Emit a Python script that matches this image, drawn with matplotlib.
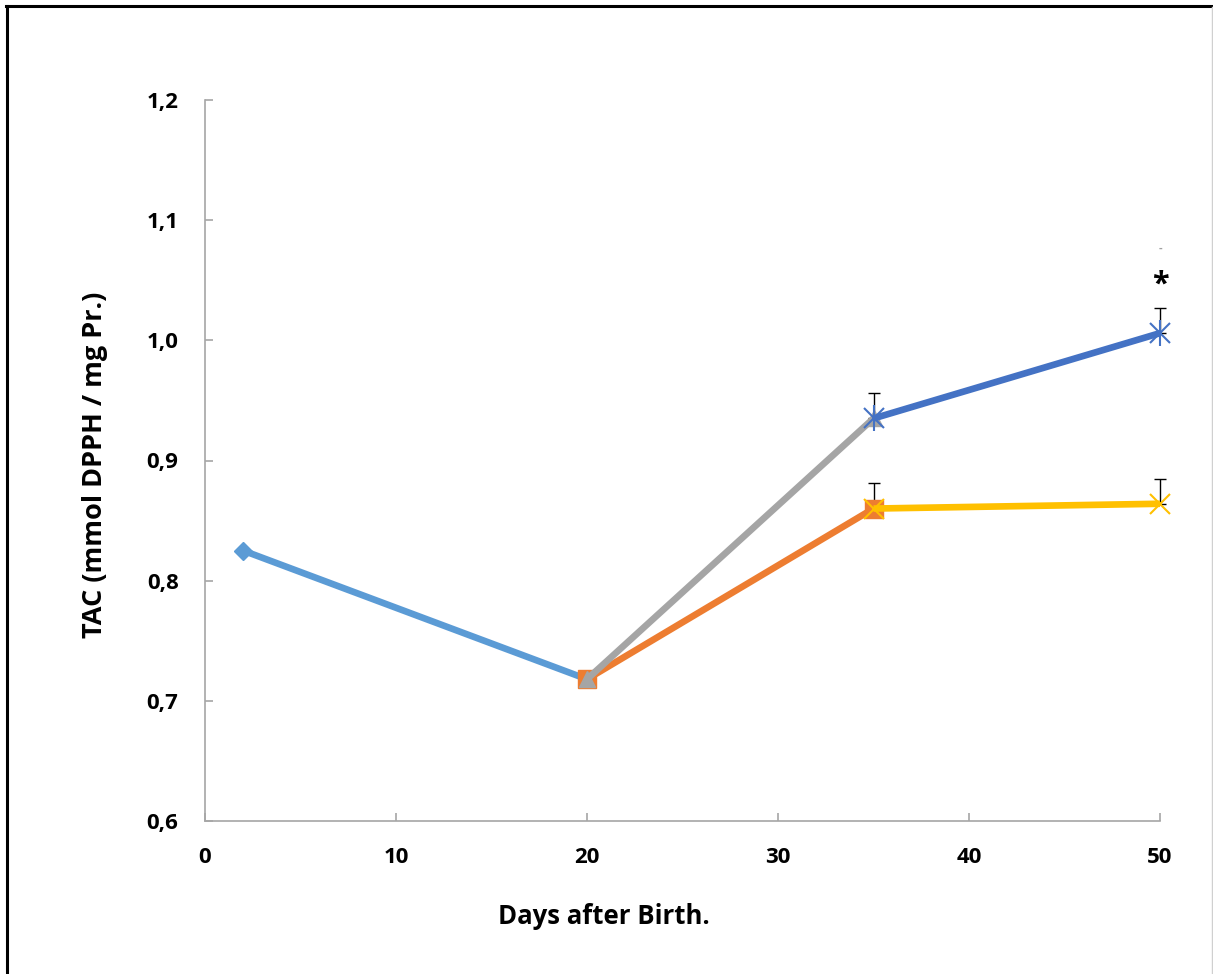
import matplotlib
matplotlib.use("Agg")
import matplotlib.pyplot as plt
from matplotlib.lines import Line2D

plt.rcParams['font.family'] = ['Open Sans', 'DejaVu Sans']
plt.rcParams['font.weight'] = 'bold'

# TAC measurements by age (days after birth)
days_early = [2, 20]
tac_early = [0.825, 0.718]

days_mid = [20, 35]
tac_mid_a = [0.718, 0.860]
tac_mid_b = [0.718, 0.935]

days_late = [35, 50]
tac_late_a = [0.860, 0.864]
tac_late_b = [0.935, 1.006]

# upper standard errors
err_late_a = [0.021, 0.021]
err_late_b = [0.021, 0.021]

x_ticks = [0, 10, 20, 30, 40, 50]
y_ticks = [0.6, 0.7, 0.8, 0.9, 1.0, 1.1, 1.2]

fig = plt.figure(figsize=(12.13, 9.74), dpi=100)
ax = fig.add_axes([205 / 1213, 1 - 821 / 974, 955 / 1213, 721 / 974])

lw = 4.8
ax.plot(days_early, tac_early, color='#5B9BD5', lw=lw, marker='D', ms=9,
        solid_capstyle='butt', zorder=3, clip_on=False)
ax.plot(days_mid, tac_mid_a, color='#ED7D31', lw=lw, marker='s', ms=13,
        solid_capstyle='butt', zorder=3, clip_on=False)
ax.plot(days_mid, tac_mid_b, color='#A5A5A5', lw=lw, marker='^', ms=12,
        solid_capstyle='butt', zorder=3, clip_on=False)

for tac, err in [(tac_late_a, err_late_a), (tac_late_b, err_late_b)]:
    eb = ax.errorbar(days_late, tac, yerr=[[0, 0], err], fmt='none',
                     ecolor='black', elinewidth=1.0, capsize=4.5,
                     capthick=1.0, zorder=2)
    for art in eb.lines[1] + eb.lines[2]:
        art.set_clip_on(False)

ax.plot(days_late, tac_late_a, color='#FFC000', lw=lw, marker='x', ms=14,
        mew=1.5, solid_capstyle='butt', zorder=4, clip_on=False)
ax.plot(days_late, tac_late_b, color='#4472C4', lw=lw, marker='x', ms=14,
        mew=1.5, solid_capstyle='butt', zorder=4, clip_on=False)
ax.plot(days_late, tac_late_b, color='#4472C4', lw=0, marker='|', ms=19,
        mew=1.5, zorder=4, clip_on=False)

# significance mark above day 50
ax.text(50, 1.046, '*', ha='center', va='center', fontsize=22,
        fontweight='bold', color='black')
ax.text(50, 1.077, '-', ha='center', va='center', fontsize=8, color='#A0A0A0')

ax.set_xlim(0, 50)
ax.set_ylim(0.6, 1.2)
ax.set_xticks(x_ticks)
ax.set_yticks(y_ticks)
ax.set_xticklabels([str(v) for v in x_ticks])
ax.set_yticklabels([f"{v:.1f}".replace('.', ',') for v in y_ticks])

for side in ['top', 'right']:
    ax.spines[side].set_visible(False)
for side in ['left', 'bottom']:
    ax.spines[side].set_color('#A6A6A6')
    ax.spines[side].set_linewidth(1.2)

ax.tick_params(axis='both', direction='in', length=6, width=1.2,
               color='#A6A6A6', labelsize=16)
ax.tick_params(axis='y', pad=19)
ax.tick_params(axis='x', pad=19)

fig.text(95 / 1213, 1 - 465 / 974, 'TAC (mmol DPPH / mg Pr.)', rotation=90,
         ha='center', va='center', fontsize=19.5, fontweight='bold')
fig.text(604 / 1213, 1 - 917 / 974, 'Days after Birth.', ha='center',
         va='center', fontsize=18.5, fontweight='bold')

# outer frame
fig.add_artist(Line2D([7 / 1213, 7 / 1213], [0, 1 - 6 / 974], color='black',
                      lw=2.2, transform=fig.transFigure))
fig.add_artist(Line2D([6 / 1213, 1211 / 1213], [1 - 6 / 974, 1 - 6 / 974],
                      color='black', lw=2.2, transform=fig.transFigure))
fig.add_artist(Line2D([1211.5 / 1213, 1211.5 / 1213], [0, 1 - 7 / 974],
                      color='#D0D0D0', lw=1.0, transform=fig.transFigure))

fig.savefig('out.png', dpi=100)
